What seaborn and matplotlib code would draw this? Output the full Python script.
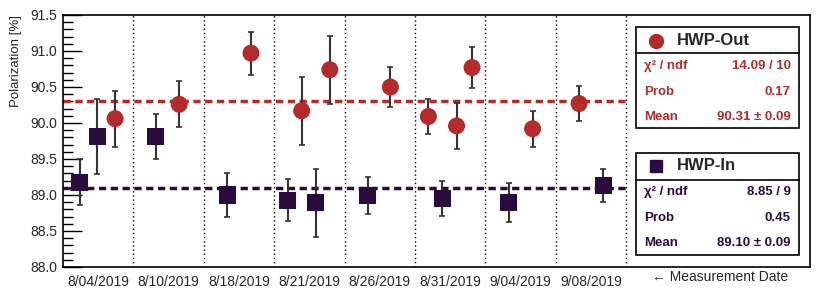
import numpy as np
import pandas as pd
import matplotlib
matplotlib.use("Agg")
import matplotlib.pyplot as plt
import seaborn as sns
from matplotlib.patches import Rectangle
from matplotlib.lines import Line2D
from matplotlib.ticker import MultipleLocator

# data
dates = ['8/04/2019', '8/10/2019', '8/18/2019', '8/21/2019',
         '8/26/2019', '8/31/2019', '9/04/2019', '9/08/2019']

# run position in "date bin" units, polarization and error
out_pos = [0.74, 1.65, 2.67, 3.39, 3.79, 4.65, 5.19, 5.59, 5.81, 6.67, 7.33]
out_pol = [90.06, 90.26, 90.97, 90.17, 90.74, 90.50, 90.09, 89.96, 90.77, 89.92, 90.27]
out_err = [0.39, 0.32, 0.30, 0.47, 0.47, 0.28, 0.24, 0.32, 0.29, 0.25, 0.24]

in_pos = [0.24, 0.49, 1.32, 2.33, 3.19, 3.59, 4.33, 5.39, 6.33, 7.67]
in_pol = [89.18, 89.81, 89.81, 89.00, 88.93, 88.89, 88.99, 88.95, 88.89, 89.13]
in_err = [0.32, 0.52, 0.31, 0.30, 0.29, 0.47, 0.26, 0.24, 0.27, 0.23]

out_mean = 90.31
in_mean = 89.10

out_stats = [('χ² / ndf', '14.09 / 10'), ('Prob', '0.17'), ('Mean', '90.31 ± 0.09')]
in_stats = [('χ² / ndf', '8.85 / 9'), ('Prob', '0.45'), ('Mean', '89.10 ± 0.09')]

red = '#b32b2b'
purple = '#2b0a3d'

sns.set_theme(style='white')
plt.rcParams['font.family'] = ['Liberation Sans', 'DejaVu Sans']

df = pd.concat([
    pd.DataFrame({'pos': out_pos, 'pol': out_pol, 'err': out_err, 'mode': 'HWP-Out'}),
    pd.DataFrame({'pos': in_pos, 'pol': in_pol, 'err': in_err, 'mode': 'HWP-In'}),
], ignore_index=True)

fig = plt.figure(figsize=(8.3, 3.0), dpi=100)
ax = fig.add_axes([0.0759, 0.11, 0.9, 0.84])

# error bars first, markers on top
for mode, col in [('HWP-Out', red), ('HWP-In', purple)]:
    sub = df[df['mode'] == mode]
    ax.errorbar(sub['pos'], sub['pol'], yerr=sub['err'], fmt='none',
                ecolor='#333333', elinewidth=1.5, capsize=2.5, capthick=1.2, zorder=3)

sns.scatterplot(data=df, x='pos', y='pol', hue='mode', style='mode',
                palette={'HWP-Out': red, 'HWP-In': purple},
                markers={'HWP-Out': 'o', 'HWP-In': 's'},
                s=150, edgecolor='none', legend=False, zorder=4, ax=ax)

# mean lines
ax.hlines(out_mean, 0, 8, colors=red, linestyles=(0, (2.1, 1.3)), linewidth=2.5, zorder=2)
ax.hlines(in_mean, 0, 8, colors=purple, linestyles=(0, (2.1, 1.3)), linewidth=2.5, zorder=2)

# date separators
for i in range(1, len(dates) + 1):
    ax.axvline(i, color='black', linestyle=(0, (1, 2)), linewidth=1, zorder=1)

ax.set_xlim(0, 10.61)
ax.set_ylim(88.0, 91.5)
ax.set_xticks(np.arange(len(dates)) + 0.5)
ax.set_xticklabels(dates, fontsize=10)
ax.tick_params(axis='x', length=0, pad=6)
ax.yaxis.set_major_locator(MultipleLocator(0.5))
ax.yaxis.set_minor_locator(MultipleLocator(0.1))
ax.yaxis.set_major_formatter(matplotlib.ticker.FormatStrFormatter('%.1f'))
ax.tick_params(axis='y', which='major', direction='in', length=13.5, width=1,
               left=True, labelsize=10, color='black', pad=4)
ax.tick_params(axis='y', which='minor', direction='in', length=7, width=1,
               left=True, color='black')
ax.set_xlabel('')
ax.set_ylabel('Polarization [%]', fontsize=9.5, loc='top', labelpad=6)
for sp in ax.spines.values():
    sp.set_color('black')
    sp.set_linewidth(1.2)

fig.text(0.785, 0.077, '← Measurement Date', fontsize=10, ha='left', va='center')


def stat_box(y_top, y_sep, y_bot, title, marker, col, rows, row_ys, head_y):
    x0, x1 = 0.766, 0.963
    fig.add_artist(Rectangle((x0, y_bot), x1 - x0, y_top - y_bot, transform=fig.transFigure,
                             facecolor='white', edgecolor='black', linewidth=1.2, zorder=5))
    fig.add_artist(Line2D([x0, x1], [y_sep, y_sep], transform=fig.transFigure,
                          color='black', linewidth=1.2, zorder=6))
    fig.add_artist(Line2D([0.790], [head_y], transform=fig.transFigure, marker=marker,
                          markersize=10 if marker == 'o' else 9, color=col,
                          linestyle='none', zorder=6))
    fig.text(0.815, head_y, title, fontsize=12, fontweight='bold', ha='left', va='center', zorder=6)
    for (lab, val), yy in zip(rows, row_ys):
        fig.text(0.776, yy, lab, fontsize=9.5, fontweight='bold', color=col,
                 ha='left', va='center', zorder=6)
        fig.text(0.953, yy, val, fontsize=9.5, fontweight='bold', color=col,
                 ha='right', va='center', zorder=6)


stat_box(0.911, 0.822, 0.572, 'HWP-Out', 'o', red, out_stats, [0.78, 0.694, 0.611], 0.864)
stat_box(0.491, 0.40, 0.15, 'HWP-In', 's', purple, in_stats, [0.361, 0.272, 0.191], 0.447)

plt.savefig('out.png', dpi=100)
plt.close()
